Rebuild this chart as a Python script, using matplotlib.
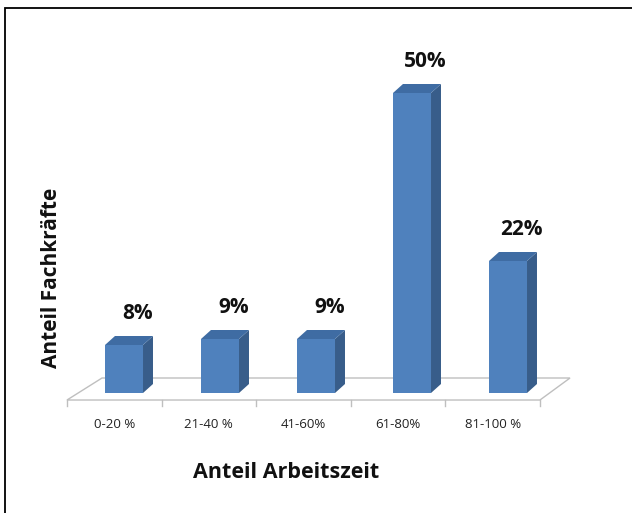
import matplotlib.pyplot as plt
from matplotlib.patches import Polygon, Rectangle

# data
categories = ["0-20 %", "21-40 %", "41-60%", "61-80%", "81-100 %"]
values = [8, 9, 9, 50, 22]
labels = ["8%", "9%", "9%", "50%", "22%"]

plt.rcParams['font.family'] = ['Open Sans', 'DejaVu Sans']

fig = plt.figure(figsize=(6.32, 5.13), dpi=100)
ax = fig.add_axes([0, 0, 1, 1])
ax.set_xlim(-1.2917, 5.2917)
ax.set_ylim(-20, 65.5)
ax.axis('off')

# frame around the chart (only top and left edges fall inside the picture)
ax.add_patch(Rectangle((0.008, -0.6), 2.0, 1.584, transform=ax.transAxes,
                       fill=False, edgecolor='black', lw=1.3, clip_on=False))

front = '#4F81BD'
side = '#385D8A'
top = '#3F6CA3'

# floor
fl_front, fl_back = -1.17, 2.5
x0f, x1f = -0.594, 4.333
x0b, x1b = -0.229, 4.646
ax.add_patch(Polygon([(x0f, fl_front), (x1f, fl_front), (x1b, fl_back), (x0b, fl_back)],
                     closed=True, facecolor='white', edgecolor='#BFBFBF', lw=1.0, zorder=1))

# ticks along front edge
step = (x1f - x0f) / len(categories)
for k in range(len(categories) + 1):
    xt = x0f + k * step
    ax.plot([xt, xt], [fl_front, fl_front - 1.0], color='#BFBFBF', lw=1.0, zorder=1)

hw = 0.198
dx, dy = 0.104, 1.5
for i, (v, lab) in enumerate(zip(values, labels)):
    xl, xr = i - hw, i + hw
    ax.add_patch(Polygon([(xl, 0), (xr, 0), (xr, v), (xl, v)], closed=True,
                         facecolor=front, edgecolor='none', zorder=3))
    ax.add_patch(Polygon([(xr, 0), (xr + dx, dy), (xr + dx, v + dy), (xr, v)], closed=True,
                         facecolor=side, edgecolor='none', zorder=3))
    ax.add_patch(Polygon([(xl, v), (xr, v), (xr + dx, v + dy), (xl + dx, v + dy)], closed=True,
                         facecolor=top, edgecolor='none', zorder=3))
    ax.text(i + 0.14, v + 5.3, lab, ha='center', va='center', fontsize=15,
            fontweight='bold', color='#111111')

for k, cat in enumerate(categories):
    xc = x0f + (k + 0.5) * step
    ax.text(xc, -5.2, cat, ha='center', va='center', fontsize=9.5, color='#222222')

ax.text(1.69, -13.2, "Anteil Arbeitszeit", ha='center', va='center', fontsize=15.5,
        fontweight='bold', color='#111111')
ax.text(-0.76, 19.2, "Anteil Fachkräfte", ha='center', va='center', fontsize=15,
        fontweight='bold', rotation=90, color='#111111')

fig.savefig('out.png', dpi=100)
